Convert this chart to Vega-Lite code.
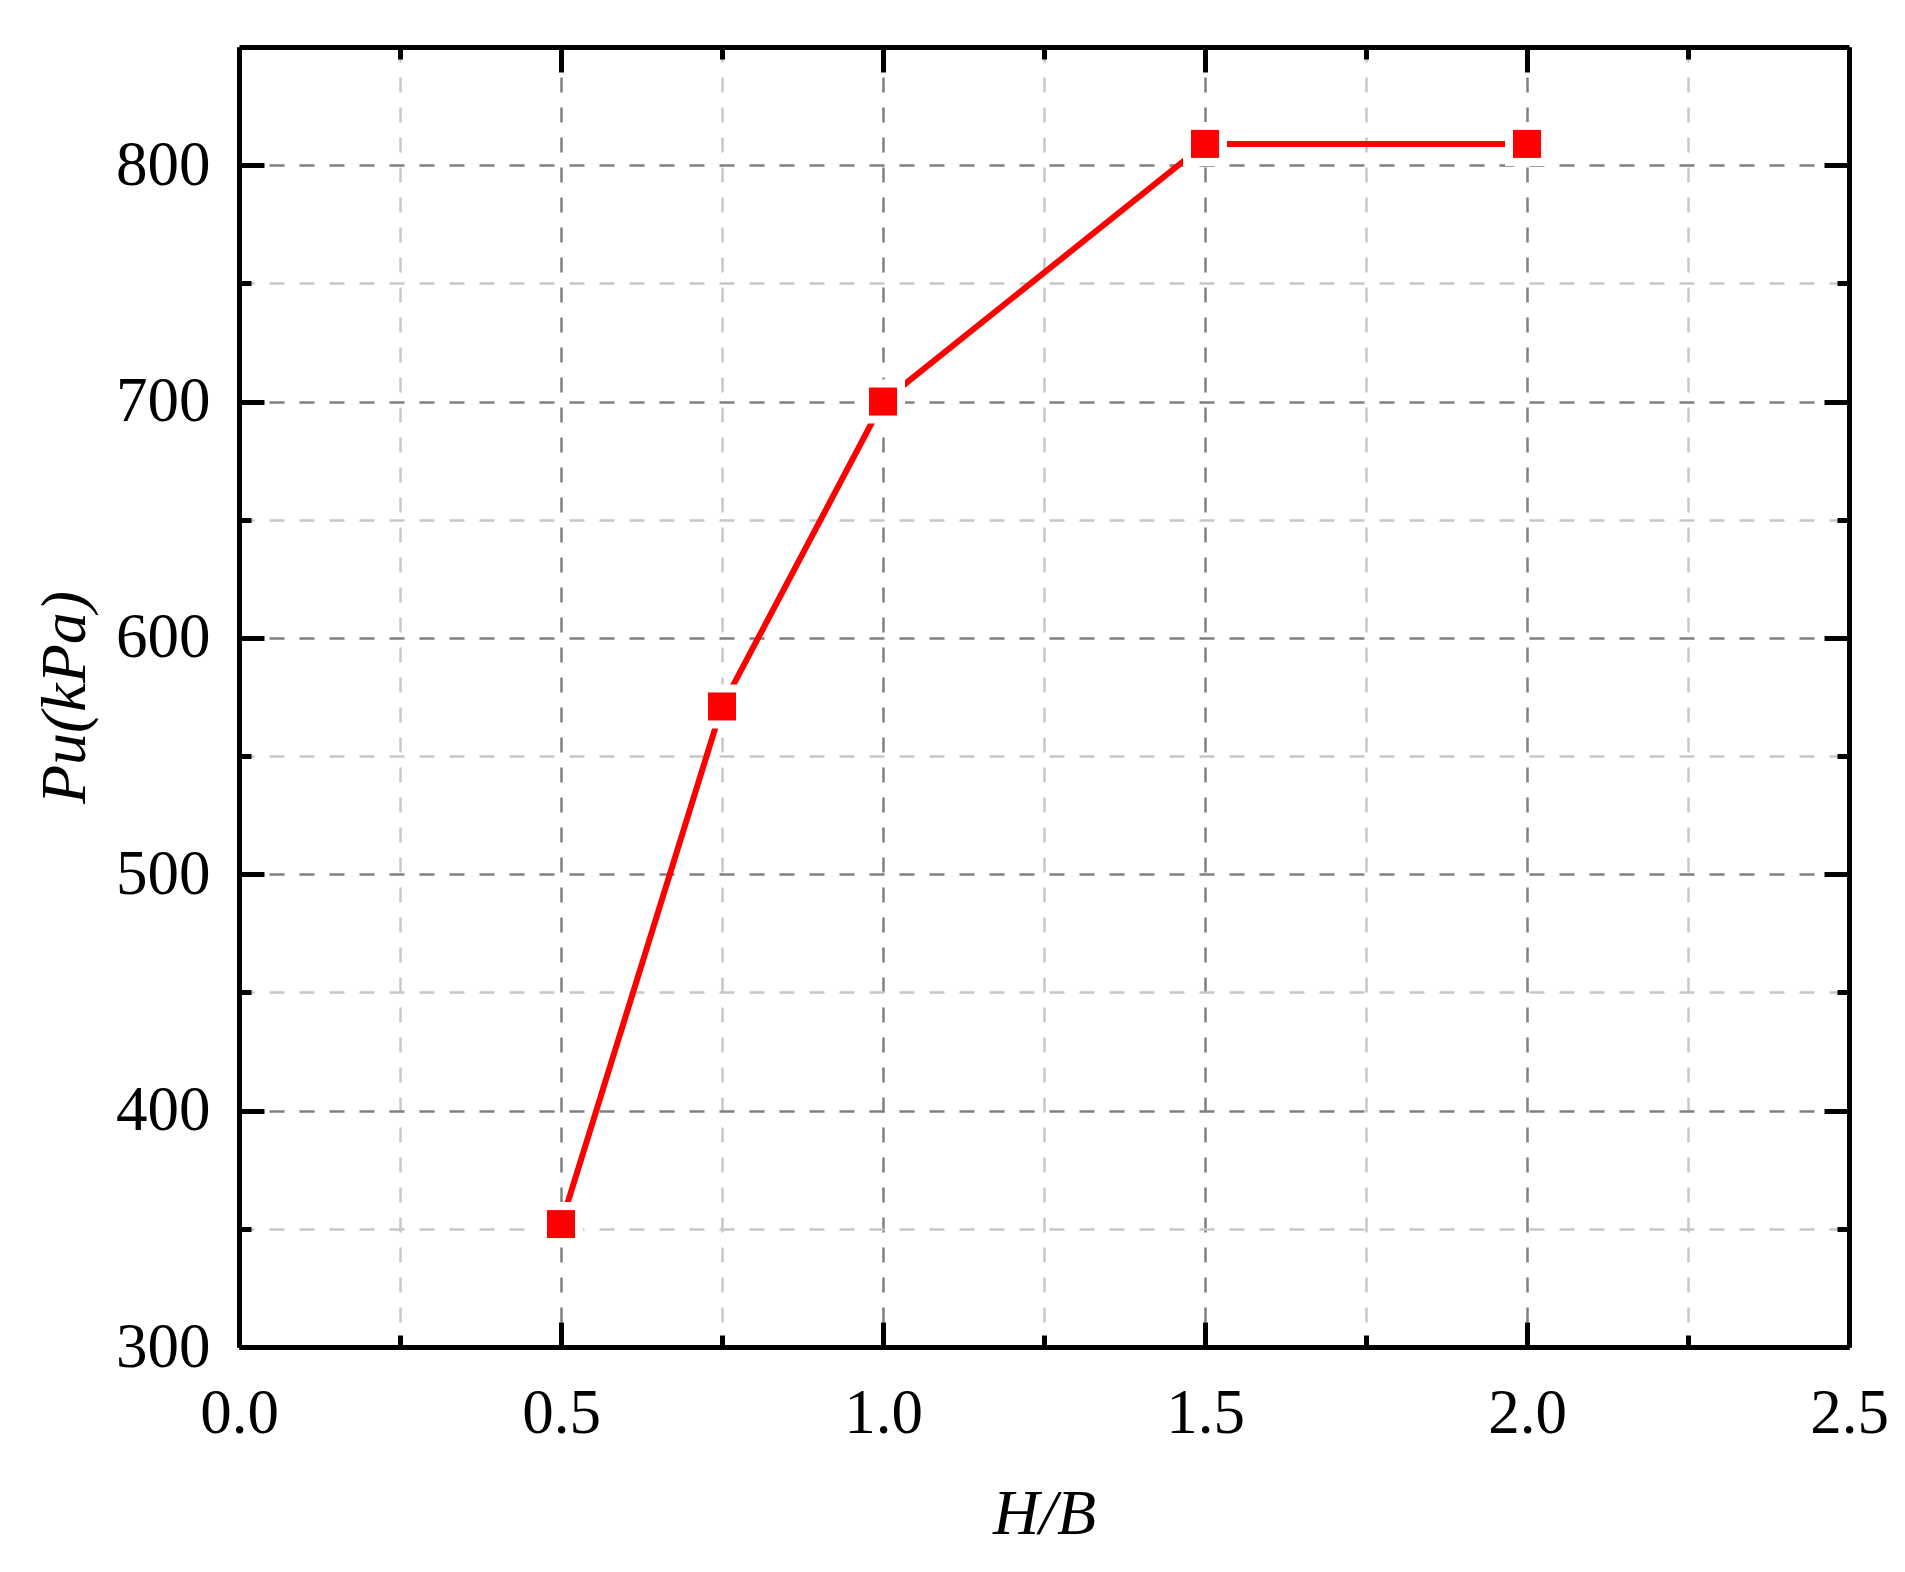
{
  "$schema": "https://vega.github.io/schema/vega-lite/v6.json",
  "width": 1610,
  "height": 1300,
  "autosize": {"type": "none"},
  "padding": {"left": 239, "top": 47, "right": 56, "bottom": 225},
  "background": "white",
  "data": {
    "values": [
      {"hb": 0.5, "pu": 352},
      {"hb": 0.75, "pu": 571},
      {"hb": 1.0, "pu": 700},
      {"hb": 1.5, "pu": 809},
      {"hb": 2.0, "pu": 809}
    ]
  },
  "config": {
    "view": {"stroke": null},
    "axis": {
      "labelFont": "Liberation Serif",
      "titleFont": "Liberation Serif",
      "labelFontSize": 63,
      "titleFontSize": 64,
      "titleFontStyle": "italic",
      "titleFontWeight": "normal",
      "labelColor": "black",
      "titleColor": "black",
      "domainColor": "black",
      "domainWidth": 5,
      "tickColor": "black",
      "tickWidth": 5,
      "gridDash": [15, 15],
      "gridWidth": 2.5
    }
  },
  "encoding": {
    "x": {
      "field": "hb",
      "type": "quantitative",
      "scale": {"domain": [0, 2.5], "nice": false, "zero": false}
    },
    "y": {
      "field": "pu",
      "type": "quantitative",
      "scale": {"domain": [300, 850], "nice": false, "zero": false}
    }
  },
  "layer": [
    {
      "mark": {"type": "line", "color": "#ff0000", "strokeWidth": 6, "strokeCap": "round"},
      "encoding": {
        "x": {
          "field": "hb",
          "type": "quantitative",
          "title": "H/B",
          "axis": {
            "orient": "bottom",
            "values": [0, 0.25, 0.5, 0.75, 1, 1.25, 1.5, 1.75, 2, 2.25, 2.5],
            "format": ".1f",
            "labelExpr": "datum.value % 0.5 === 0 ? datum.label : ''",
            "labelPadding": 60,
            "labelFlush": false,
            "labelOverlap": false,
            "grid": true,
            "gridColor": {"condition": {"test": "datum.value % 0.5 === 0", "value": "#808080"}, "value": "#c8c8c8"},
            "tickSize": {"condition": {"test": "datum.value % 0.5 === 0", "value": -25}, "value": -12},
            "titlePadding": 24
          }
        },
        "y": {
          "field": "pu",
          "type": "quantitative",
          "title": "Pu(kPa)",
          "axis": {
            "orient": "left",
            "values": [300, 350, 400, 450, 500, 550, 600, 650, 700, 750, 800],
            "format": "d",
            "labelExpr": "datum.value % 100 === 0 ? datum.label : ''",
            "labelPadding": 54,
            "labelFlush": false,
            "labelOverlap": false,
            "grid": true,
            "gridColor": {"condition": {"test": "datum.value % 100 === 0", "value": "#808080"}, "value": "#c8c8c8"},
            "tickSize": {"condition": {"test": "datum.value % 100 === 0", "value": -25}, "value": -12},
            "titlePadding": 18
          }
        }
      }
    },
    {
      "mark": {"type": "point", "shape": "square", "filled": true, "color": "white", "opacity": 1, "size": 1936},
      "encoding": {
        "x": {"field": "hb", "type": "quantitative", "axis": null},
        "y": {"field": "pu", "type": "quantitative", "axis": null}
      }
    },
    {
      "mark": {"type": "point", "shape": "square", "filled": true, "color": "#ff0000", "opacity": 1, "size": 784},
      "encoding": {
        "x": {
          "field": "hb",
          "type": "quantitative",
          "axis": {
            "orient": "top",
            "title": null,
            "labels": false,
            "grid": false,
            "values": [0, 0.25, 0.5, 0.75, 1, 1.25, 1.5, 1.75, 2, 2.25, 2.5],
            "tickSize": {"condition": {"test": "datum.value % 0.5 === 0", "value": -25}, "value": -12}
          }
        },
        "y": {
          "field": "pu",
          "type": "quantitative",
          "axis": {
            "orient": "right",
            "title": null,
            "labels": false,
            "grid": false,
            "values": [300, 350, 400, 450, 500, 550, 600, 650, 700, 750, 800],
            "tickSize": {"condition": {"test": "datum.value % 100 === 0", "value": -25}, "value": -12}
          }
        }
      }
    }
  ],
  "resolve": {"axis": {"x": "independent", "y": "independent"}}
}
